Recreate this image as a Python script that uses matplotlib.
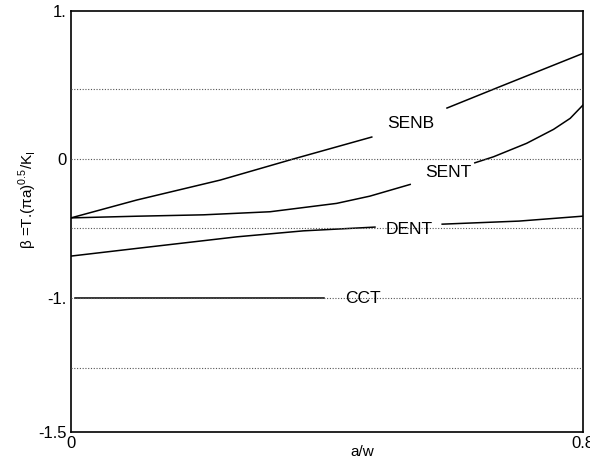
import matplotlib
matplotlib.use('Agg')
import matplotlib.pyplot as plt
import numpy as np

plt.rcParams['font.family'] = ['Liberation Sans', 'DejaVu Sans']
plt.rcParams['mathtext.fontset'] = 'custom'
plt.rcParams['mathtext.rm'] = 'Liberation Sans'

# curves (nan = gap left for the label)
senb_x = [0.0, 0.1026, 0.233, 0.347, 0.470, np.nan, 0.5875, 0.670, 0.8016]
senb_y = [-0.424, -0.296, -0.153, -0.002, 0.156, np.nan, 0.364, 0.517, 0.759]

sent_x = [0.0, 0.1026, 0.207, 0.311, 0.415, 0.467, 0.530, np.nan,
          0.631, 0.660, 0.712, 0.754, 0.780, 0.8016]
sent_y = [-0.424, -0.412, -0.402, -0.380, -0.320, -0.268, -0.184, np.nan,
          -0.029, 0.014, 0.111, 0.211, 0.290, 0.393]

dent_x = [0.0, 0.1026, 0.259, 0.363, 0.475, np.nan, 0.580, 0.700, 0.8016]
dent_y = [-0.698, -0.643, -0.560, -0.517, -0.490, np.nan, -0.469, -0.447, -0.411]

cct_x = [0.006, 0.395]
cct_y = [-1.0, -1.0]

curve_labels = ['SENB', 'SENT', 'DENT', 'CCT']
label_pos = [(0.531, 0.254), (0.589, -0.097), (0.528, -0.506), (0.456, -1.0)]

grid_y = [0.5, 0.0, -0.5, -1.0, -1.5]
ylims = (-1.96, 1.06)
ytick_pos = [1.06, 0.0, -1.0, -1.96]
ytick_labels = ['1.', '0', '-1.', '-1.5']
xtick_pos = [0.0, 0.8]
xtick_labels = ['0', '0.8']

fig = plt.figure(figsize=(5.9, 4.59), dpi=100)
ax = fig.add_axes([0.1203, 0.0588, 0.8678, 0.9172])

for gy in grid_y:
    ax.axhline(gy, color='#555555', lw=0.8, linestyle=(0, (1, 1.5)), zorder=3)

for xs, ys in [(senb_x, senb_y), (sent_x, sent_y), (dent_x, dent_y), (cct_x, cct_y)]:
    ax.plot(xs, ys, color='black', lw=1.1, zorder=2)

for lab, (lx, ly) in zip(curve_labels, label_pos):
    ax.text(lx, ly, lab, fontsize=12.5, ha='center', va='center', zorder=4)

ax.set_xlim(0, 0.8)
ax.set_ylim(*ylims)
ax.set_yticks(ytick_pos)
ax.set_yticklabels(ytick_labels)
ax.set_xticks(xtick_pos)
ax.set_xticklabels(xtick_labels)
ax.tick_params(length=0, labelsize=12, pad=3)

for sp in ax.spines.values():
    sp.set_linewidth(1.2)

ax.set_xlabel('a/w', fontsize=11)
ax.xaxis.set_label_coords(0.568, -0.047)
ax.xaxis.label.set_va('center')

ax.set_ylabel(r'β =T.(πa)$^{0.5}$/K$_{\mathrm{I}}$', fontsize=11)
ax.yaxis.set_label_coords(-0.084, 0.551)
ax.yaxis.label.set_va('center')

fig.savefig('out.png', dpi=100)
